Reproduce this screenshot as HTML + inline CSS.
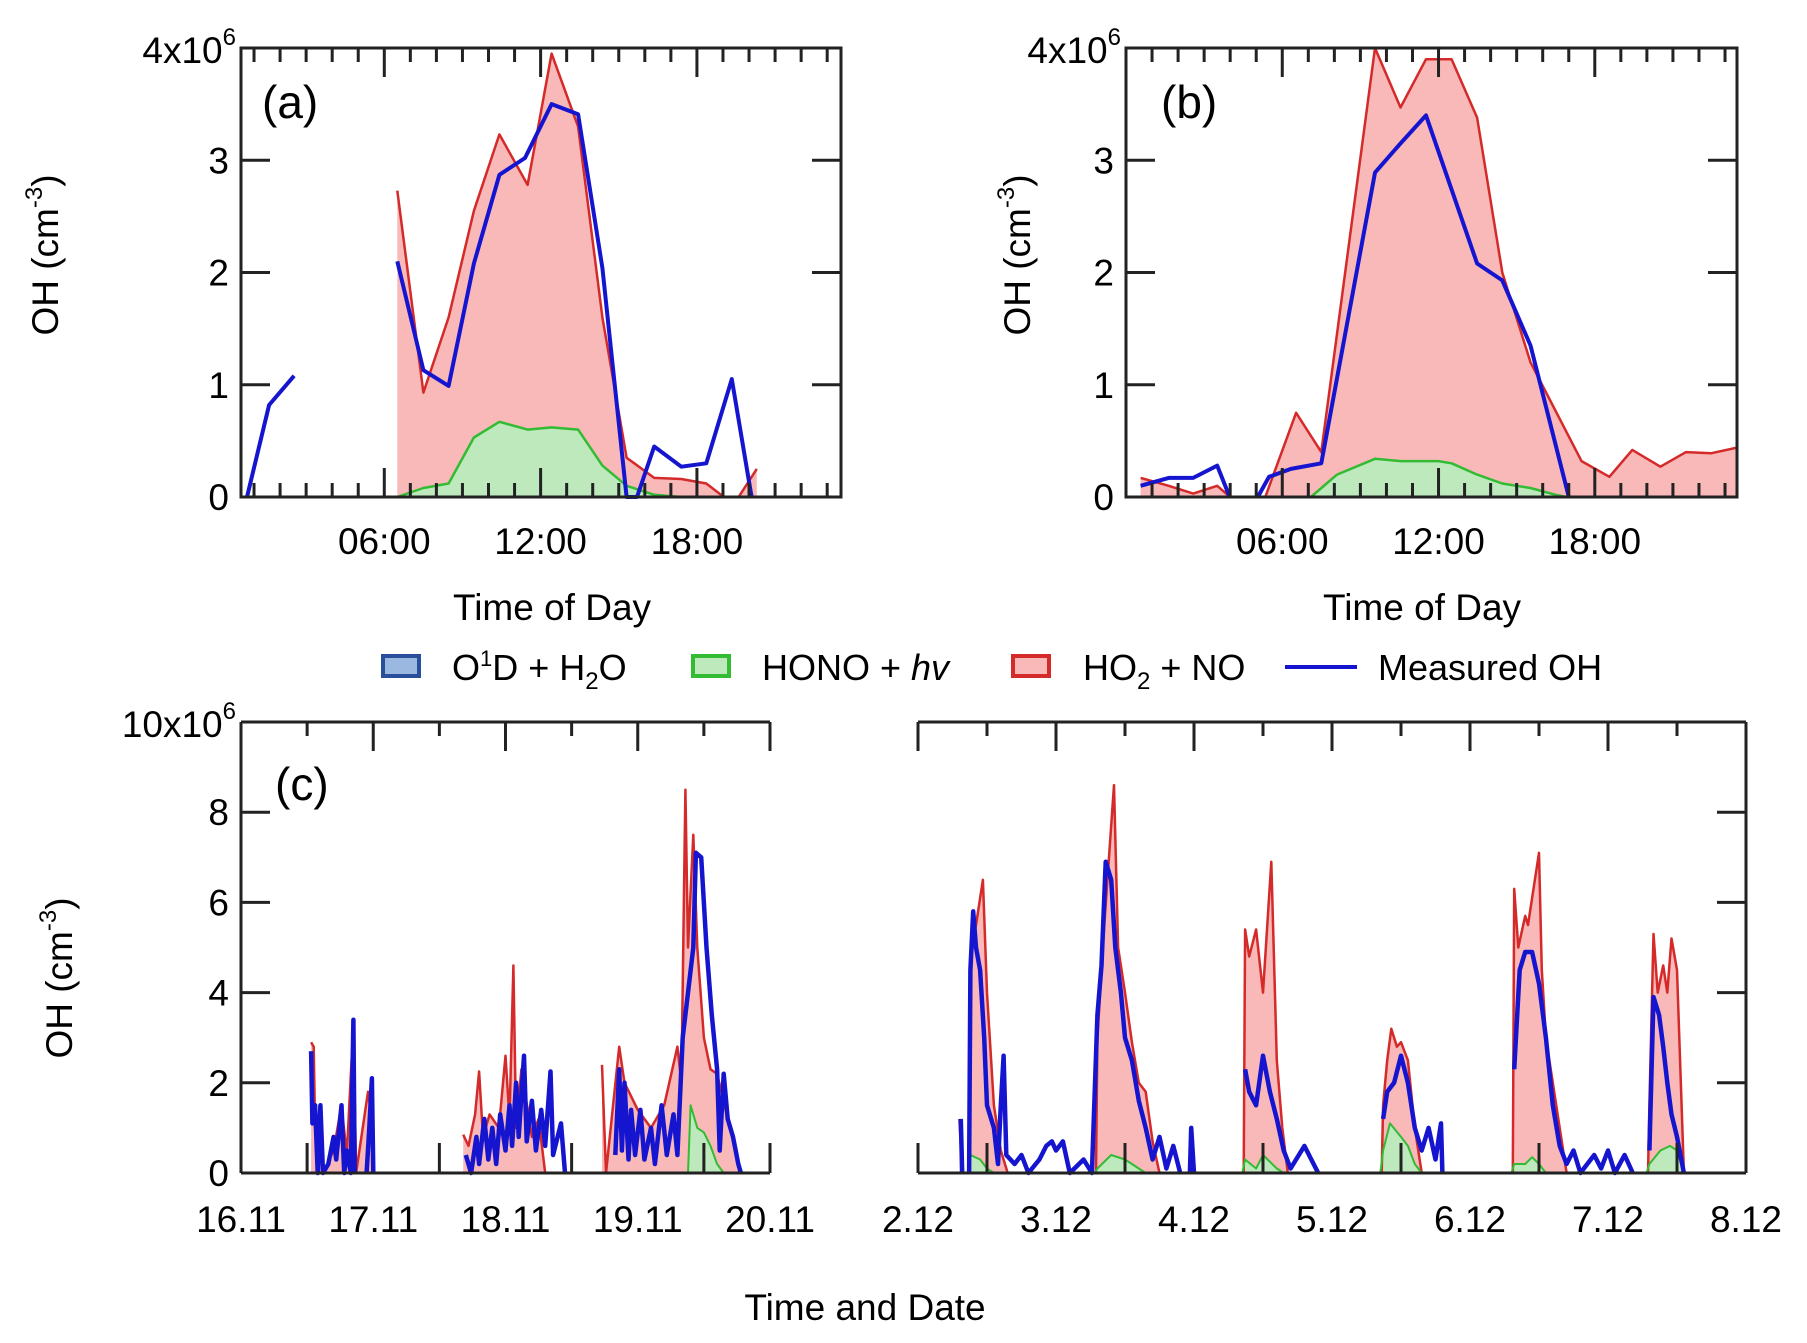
<!DOCTYPE html>
<html><head><meta charset="utf-8"><style>
html,body{margin:0;padding:0;background:#fff;}
svg{display:block;font-family:"Liberation Sans",sans-serif;}
</style></head><body>
<svg id="fig" width="1807" height="1343" viewBox="0 0 1807 1343" xmlns="http://www.w3.org/2000/svg">
<g id="pa"></g>
<g id="pb"></g>
<g id="pc"></g>
<g id="legend">
  <rect x="383" y="656" width="36" height="20" fill="#9ab8e0" stroke="#2a4f9a" stroke-width="4"/>
  <text x="452" y="680" font-size="36">O<tspan font-size="22" dy="-14">1</tspan><tspan dy="14">D + H</tspan><tspan font-size="24" dy="9">2</tspan><tspan dy="-9">O</tspan></text>
  <rect x="693" y="656" width="36" height="20" fill="#bde9bd" stroke="#33bb33" stroke-width="4"/>
  <text x="762" y="680" font-size="36">HONO + <tspan font-style="italic">hv</tspan></text>
  <rect x="1013" y="656" width="36" height="20" fill="#f9b9b9" stroke="#d42a2a" stroke-width="4"/>
  <text x="1083" y="680" font-size="36">HO<tspan font-size="24" dy="9">2</tspan><tspan dy="-9"> + NO</tspan></text>
  <line x1="1285" y1="667" x2="1357" y2="667" stroke="#1515d0" stroke-width="4"/>
  <text x="1378" y="680" font-size="36">Measured OH</text>
</g>
</svg>
<script>
// ---------- Panel (a) data: time of day (h), OH (1e6 cm-3)
const aRedT  = [6.5,7.5,8.47,9.44,10.42,11.5,12.42,13.44,14.37,15.3,16.36,17.4,18.36,19.03,19.6,20.3];
const aRedV  = [2.73,0.93,1.6,2.55,3.23,2.78,3.95,3.3,1.6,0.35,0.17,0.16,0.12,0,0,0.25];
const aGrnT  = [6.5,7.5,8.47,9.44,10.42,11.5,12.42,13.44,14.37,15.3,16.36,17.4];
const aGrnV  = [0,0.08,0.12,0.53,0.67,0.6,0.62,0.6,0.28,0.1,0.02,0];
const aBlu1T = [0.73,1.58,2.54];
const aBlu1V = [0,0.82,1.08];
const aBlu2T = [6.5,7.5,8.47,9.44,10.42,11.4,12.42,13.44,14.37,15.3,15.7,16.36,17.4,18.36,19.34,20.1];
const aBlu2V = [2.1,1.13,0.99,2.08,2.87,3.02,3.5,3.41,2.04,0,0,0.45,0.27,0.3,1.05,0];
// ---------- Panel (b) data
const bRedT  = [0.56,1.64,2.58,3.5,4.0,5.35,6.53,7.5,9.56,10.54,11.52,12.5,13.48,14.45,15.53,17.49,18.56,19.44,20.52,21.5,22.48,23.46];
const bRedV  = [0.17,0.1,0.03,0.1,0,0,0.75,0.4,4.0,3.47,3.9,3.9,3.38,2.0,1.2,0.32,0.18,0.42,0.27,0.4,0.39,0.44];
const bGrnT  = [7.1,8.1,9.56,10.54,12.0,12.5,13.48,14.45,15.53,16.5,16.9];
const bGrnV  = [0,0.2,0.34,0.32,0.32,0.3,0.2,0.12,0.08,0.02,0];
const bBlu1T = [0.56,1.64,2.58,3.5,3.98];
const bBlu1V = [0.1,0.17,0.17,0.28,0];
const bBlu2T = [5.06,5.49,6.33,7.5,9.56,10.54,11.52,13.48,14.45,15.53,17.0];
const bBlu2V = [0,0.18,0.25,0.3,2.89,3.15,3.4,2.08,1.93,1.35,0];
// ---------- Panel (c) data: date (day of month), OH (1e6 cm-3); null = data gap
const cNovRed = [[16.53,2.9],[16.55,2.8],[16.56,1.0],[16.6,1.4],[16.62,0],[16.7,0.5],[16.76,1.5],[16.8,0.4],[16.85,3.3],[16.87,0],[16.96,1.8],[16.99,1.2],[17.0,0],[17.0,null],
 [17.68,0.85],[17.72,0.6],[17.77,1.3],[17.8,2.25],[17.83,0.8],[17.88,1.3],[17.95,1.0],[18.0,2.6],[18.03,1.2],[18.06,4.6],[18.08,1.0],[18.12,2.3],[18.2,0.8],[18.25,1.2],[18.3,0],[18.3,null],
 [18.73,2.4],[18.76,0],[18.86,2.8],[18.9,2.0],[19.0,1.4],[19.1,1.0],[19.2,1.5],[19.3,2.8],[19.33,2.0],[19.36,8.5],[19.38,5.0],[19.42,7.5],[19.45,5.0],[19.5,3.0],[19.55,2.3],[19.6,2.2],[19.68,1.2],[19.72,0.8],[19.78,0]];
const cNovBlu = [[16.53,2.7],[16.54,1.1],[16.56,1.5],[16.58,0],[16.6,1.5],[16.62,0],[16.66,0.2],[16.7,0.8],[16.72,0.3],[16.76,1.5],[16.78,0],[16.8,0.5],[16.83,0],[16.85,3.4],[16.86,0],[16.86,null],[16.95,0],[16.97,1.0],[16.99,2.1],[17.0,0],[17.0,null],
 [17.7,0.4],[17.74,0],[17.78,0.8],[17.8,0.2],[17.84,1.2],[17.87,0.3],[17.9,1.0],[17.93,0.2],[17.96,1.3],[18.0,0.5],[18.03,1.5],[18.05,0.6],[18.08,2.0],[18.1,0.8],[18.14,2.6],[18.16,0.7],[18.2,1.6],[18.23,0.5],[18.27,1.4],[18.3,0.6],[18.34,2.25],[18.36,0.4],[18.42,1.1],[18.45,0],[18.45,null],
 [18.83,0.4],[18.86,2.3],[18.88,0.5],[18.9,2.0],[18.93,0.3],[18.95,1.4],[18.98,0.4],[19.02,1.4],[19.05,0.3],[19.1,1.0],[19.13,0.2],[19.18,1.5],[19.22,0.4],[19.27,1.3],[19.3,0.4],[19.34,3.0],[19.38,4.0],[19.42,5.0],[19.44,7.1],[19.48,7.0],[19.52,5.0],[19.56,3.5],[19.6,2.3],[19.62,0.5],[19.65,2.2],[19.68,1.2],[19.72,0.8],[19.76,0.2],[19.78,0]];
const cNovGrn = [[19.38,0],[19.4,1.5],[19.45,1.0],[19.5,0.9],[19.55,0.6],[19.6,0.2],[19.65,0]];
const cDecRed = [[2.3,1.2],[2.32,0],[2.32,null],[2.37,0],[2.38,4.8],[2.42,5.5],[2.47,6.5],[2.5,4.0],[2.55,1.5],[2.6,0.5],[2.65,0],[2.65,null],
 [3.29,0],[3.3,3.0],[3.35,5.5],[3.42,8.6],[3.45,5.0],[3.5,4.0],[3.55,2.9],[3.6,2.0],[3.65,1.8],[3.7,0.7],[3.75,0],[3.75,null],
 [4.36,0],[4.37,5.4],[4.4,4.8],[4.45,5.4],[4.5,4.0],[4.56,6.9],[4.6,2.5],[4.64,1.0],[4.68,0],[4.68,null],
 [5.36,0],[5.37,1.5],[5.4,2.5],[5.43,3.2],[5.47,2.8],[5.5,2.9],[5.55,2.5],[5.6,1.0],[5.65,0],[5.65,null],
 [6.31,0],[6.32,6.3],[6.35,5.0],[6.4,5.7],[6.42,5.5],[6.5,7.1],[6.52,4.5],[6.55,3.0],[6.6,2.0],[6.65,1.0],[6.7,0],[6.7,null],
 [7.29,0],[7.3,1.5],[7.33,5.3],[7.36,4.0],[7.4,4.6],[7.43,4.0],[7.46,5.2],[7.5,4.5],[7.55,0]];
const cDecBlu = [[2.31,1.2],[2.32,0],[2.32,null],[2.37,0],[2.38,4.5],[2.4,5.8],[2.42,5.0],[2.45,4.5],[2.48,3.0],[2.5,1.5],[2.55,1.0],[2.58,0.2],[2.6,1.5],[2.62,2.6],[2.64,0.4],[2.7,0.2],[2.75,0.4],[2.8,0],[2.88,0.3],[2.93,0.6],[2.97,0.7],[3.0,0.5],[3.05,0.7],[3.1,0],[3.2,0.3],[3.26,0],
 [3.3,3.5],[3.33,4.6],[3.36,6.9],[3.4,6.5],[3.43,5.0],[3.47,4.0],[3.5,3.0],[3.55,2.5],[3.6,1.6],[3.65,1.0],[3.7,0.3],[3.75,0.8],[3.8,0.1],[3.85,0.6],[3.9,0],[3.9,null],[3.97,0],[3.98,1.0],[4.0,0],[4.0,null],
 [4.37,2.3],[4.4,1.8],[4.45,1.5],[4.5,2.6],[4.55,1.8],[4.6,1.2],[4.65,0.5],[4.7,0.1],[4.8,0.6],[4.85,0.3],[4.9,0],[4.9,null],
 [5.37,1.2],[5.4,1.8],[5.45,2.0],[5.5,2.6],[5.55,2.0],[5.6,1.0],[5.65,0.5],[5.7,1.0],[5.75,0.3],[5.79,1.1],[5.8,0],[5.8,null],
 [6.32,2.3],[6.36,4.5],[6.4,4.9],[6.45,4.9],[6.5,4.2],[6.55,3.0],[6.6,1.5],[6.65,0.6],[6.7,0.2],[6.75,0.5],[6.8,0],[6.9,0.4],[6.95,0.1],[7.0,0.5],[7.05,0],[7.12,0.4],[7.18,0],[7.18,null],
 [7.3,0.5],[7.33,3.9],[7.37,3.5],[7.4,2.8],[7.43,2.0],[7.46,1.3],[7.5,0.8],[7.55,0]];
const cDecGrn = [[2.36,0],[2.38,0.4],[2.45,0.3],[2.5,0.1],[2.55,0],[2.55,null],[3.28,0],[3.3,0.1],[3.4,0.4],[3.5,0.3],[3.6,0.1],[3.65,0],[3.65,null],
 [4.35,0],[4.37,0.3],[4.45,0.1],[4.5,0.4],[4.6,0.1],[4.65,0],[4.65,null],[5.35,0],[5.37,0.5],[5.42,1.1],[5.5,0.8],[5.55,0.6],[5.6,0.2],[5.65,0],[5.65,null],
 [6.3,0],[6.32,0.2],[6.4,0.2],[6.45,0.35],[6.5,0.2],[6.55,0],[6.55,null],[7.28,0],[7.3,0.2],[7.38,0.5],[7.45,0.6],[7.5,0.5],[7.55,0]];
const yTicksAB = ['0','1','2','3'];
const yTicksC = ['0','2','4','6','8'];
const xTicksAB = ['06:00','12:00','18:00'];
const xTicksNov = ['16.11','17.11','18.11','19.11','20.11'];
const xTicksDec = ['2.12','3.12','4.12','5.12','6.12','7.12','8.12'];

const NS='http://www.w3.org/2000/svg';
function mk(parent,tag,attrs,text){const e=document.createElementNS(NS,tag);for(const k in attrs)e.setAttribute(k,attrs[k]);if(text!==undefined)e.textContent=text;parent.appendChild(e);return e;}
const RED='#d42a2a',PINK='#f9b9b9',GRN='#33bb33',LGRN='#bde9bd',BLU='#1515d0';
function lin(d0,d1,r0,r1){return v=>r0+(v-d0)/(d1-d0)*(r1-r0);}
function segments(T,V){const out=[];let cur=[[],[]];T.forEach((t,i)=>{if(V[i]===null){if(cur[0].length)out.push(cur);cur=[[],[]];}else{cur[0].push(t);cur[1].push(V[i]);}});if(cur[0].length)out.push(cur);return out;}
function ptsFromTV(T,V,sx,sy){return T.map((t,i)=>sx(t).toFixed(1)+','+sy(V[i]).toFixed(1));}
function area(g,T0,V0,sx,sy,fill,name){segments(T0,V0).forEach(([T,V])=>{const p=ptsFromTV(T,V,sx,sy);const s=sx(T[0]).toFixed(1)+','+sy(0)+' '+p.join(' ')+' '+sx(T[T.length-1]).toFixed(1)+','+sy(0);
 const e=mk(g,'polygon',{points:s,fill:fill,stroke:'none'});
 
 });}
function line(g,T0,V0,sx,sy,col,w,name){segments(T0,V0).forEach(([T,V])=>{const e=mk(g,'polyline',{points:ptsFromTV(T,V,sx,sy).join(' '),fill:'none',stroke:col,'stroke-width':w,'stroke-linejoin':'round'});
 
 });}
function txt(g,x,y,s,size,anchor,name){const e=mk(g,'text',{x:x,y:y,'font-size':size,'text-anchor':anchor||'start'},s);
 
 return e;}
function ylabel(g,x,y,name){const e=mk(g,'text',{x:0,y:0,'font-size':37,'text-anchor':'middle',transform:`translate(${x},${y}) rotate(-90)`});
 
 
 e.innerHTML='OH (cm<tspan font-size="24" dy="-16">-3</tspan><tspan dy="16">)</tspan>';}

function dayPanel(id,L,R,T,B,t0,t1,lab,lx,ly,data,titleX,ylx){
 const g=document.getElementById(id);
 const sx=lin(t0,t1,L,R), sy=lin(0,4,B,T);
 data.fills.forEach(f=>area(g,f[0],f[1],sx,sy,f[2],f[3]));
 data.lines.forEach(f=>line(g,f[0],f[1],sx,sy,f[2],f[3],f[4]));
 const fr=mk(g,'rect',{x:L,y:T,width:R-L,height:B-T,fill:'none',stroke:'#222','stroke-width':3});
 
 
 for(let h=Math.ceil(t0);h<=t1;h++){const x=sx(h);const len=(h%6===0)?29:14;
  mk(g,'line',{x1:x,y1:B,x2:x,y2:B-len,stroke:'#222','stroke-width':3});
  mk(g,'line',{x1:x,y1:T,x2:x,y2:T+len,stroke:'#222','stroke-width':3});}
 yTicksAB.forEach((s,i)=>{const y=sy(+s);
  mk(g,'line',{x1:L,y1:y,x2:L+29,y2:y,stroke:'#222','stroke-width':3});
  mk(g,'line',{x1:R,y1:y,x2:R-29,y2:y,stroke:'#222','stroke-width':3});
  txt(g,L-12,y+13,s,37,'end','y-tick-label');});
 const e=txt(g,L-5,T+15,'',37,'end','y-axis-max-label');e.innerHTML='4x10<tspan font-size="24" dy="-18">6</tspan>';
 xTicksAB.forEach((s,i)=>txt(g,sx(6*(i+1)),554,s,37,'middle','x-tick-label'));
 txt(g,titleX,620,'Time of Day',37,'middle','x-axis-title');
 txt(g,lx,ly,lab,46,'start','panel-label');
 ylabel(g,ylx,255,'y-axis-title');
}
dayPanel('pa',241,841,48,497,0.5,23.53,'(a)',262,118,{
 fills:[[aRedT,aRedV,PINK,'ho2-no-area'],[aGrnT,aGrnV,LGRN,'hono-area']],
 lines:[[aRedT,aRedV,RED,2.5,'ho2-no-line'],[aGrnT,aGrnV,GRN,2.5,'hono-line'],[aBlu1T,aBlu1V,BLU,4,'measured-oh-line-1'],[aBlu2T,aBlu2V,BLU,4,'measured-oh-line-2']]
},552,58);
dayPanel('pb',1126,1737,48,497,0,23.46,'(b)',1161,118,{
 fills:[[bRedT,bRedV,PINK,'ho2-no-area'],[bGrnT,bGrnV,LGRN,'hono-area']],
 lines:[[bRedT,bRedV,RED,2.5,'ho2-no-line'],[bGrnT,bGrnV,GRN,2.5,'hono-line'],[bBlu1T,bBlu1V,BLU,4,'measured-oh-line-1'],[bBlu2T,bBlu2V,BLU,4,'measured-oh-line-2']]
},1422,1030);

// ---------- Panel (c)
(function(){
 const g=document.getElementById('pc');
 const T=722,B=1173;
 const sy=lin(0,10,B,T);
 function split(arr){return [arr.map(p=>p[0]),arr.map(p=>p[1])];}
 function sub(L,R,d0,d1,red,blu,grn,ticks,name){
  const sx=lin(d0,d1,L,R);
  const r=split(red),b=split(blu),gr=split(grn);
  area(g,r[0],r[1],sx,sy,PINK,name+'-ho2-no-area');
  area(g,gr[0],gr[1],sx,sy,LGRN,name+'-hono-area');
  line(g,r[0],r[1],sx,sy,RED,2.5,name+'-ho2-no-line');
  line(g,gr[0],gr[1],sx,sy,GRN,2,name+'-hono-line');
  line(g,b[0],b[1],sx,sy,BLU,4.5,name+'-measured-oh-line');
  mk(g,'line',{x1:L,y1:T,x2:R,y2:T,stroke:'#222','stroke-width':3});
  mk(g,'line',{x1:L,y1:B,x2:R,y2:B,stroke:'#222','stroke-width':3});
  for(let d=d0;d<=d1+0.01;d+=0.5){const x=sx(d);const maj=Math.abs(d-Math.round(d))<0.01;
   mk(g,'line',{x1:x,y1:T,x2:x,y2:T+(maj?29:14),stroke:'#222','stroke-width':3});
   if(!maj) mk(g,'line',{x1:x,y1:B,x2:x,y2:B-30,stroke:'#222','stroke-width':3});}
  ticks.forEach((s,i)=>txt(g,sx(d0+i),1232,s,37,'middle','x-tick-label'));
  return sx;
 }
 sub(241,770,16,20,cNovRed,cNovBlu,cNovGrn,xTicksNov,'nov');
 sub(918,1746,2,8,cDecRed,cDecBlu,cDecGrn,xTicksDec,'dec');
 mk(g,'line',{x1:241,y1:T,x2:241,y2:B,stroke:'#222','stroke-width':3});
 mk(g,'line',{x1:770,y1:B,x2:770,y2:B-30,stroke:'#222','stroke-width':3});
 mk(g,'line',{x1:918,y1:T,x2:918,y2:T+29,stroke:'#222','stroke-width':3});
 mk(g,'line',{x1:918,y1:B,x2:918,y2:B-30,stroke:'#222','stroke-width':3});
 mk(g,'line',{x1:1746,y1:T,x2:1746,y2:B,stroke:'#222','stroke-width':3});
 yTicksC.forEach(s=>{const y=sy(+s);
  mk(g,'line',{x1:241,y1:y,x2:270,y2:y,stroke:'#222','stroke-width':3});
  mk(g,'line',{x1:1746,y1:y,x2:1717,y2:y,stroke:'#222','stroke-width':3});
  txt(g,229,y+13,s,37,'end','y-tick-label');});
 const e=txt(g,236,T+15,'',37,'end','y-axis-max-label');e.innerHTML='10x10<tspan font-size="24" dy="-18">6</tspan>';
 txt(g,275,800,'(c)',46,'start','panel-label');
 txt(g,865,1320,'Time and Date',37,'middle','x-axis-title');
 ylabel(g,72,978,'y-axis-title');
})();
</script>
</body></html>
